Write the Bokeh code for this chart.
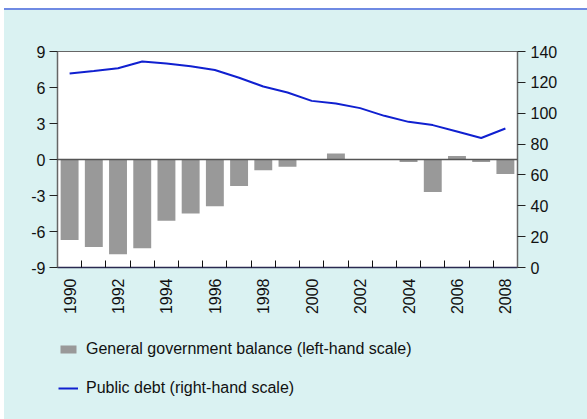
import math
from bokeh.plotting import figure
from bokeh.layouts import column
from bokeh.models import (Range1d, LinearAxis, FixedTicker, Span, Legend, LegendItem,
                          ColumnDataSource)
from bokeh.embed import file_html
from bokeh.resources import INLINE

years = list(range(1990, 2009))
balance = [-6.7, -7.3, -7.9, -7.4, -5.1, -4.5, -3.9, -2.2, -0.9, -0.6,
           0.0, 0.5, 0.0, 0.0, -0.2, -2.7, 0.3, -0.2, -1.2]
debt = [125.7, 127.3, 129.2, 133.5, 132.2, 130.5, 128.0, 123.0, 117.3, 113.4,
        108.0, 106.3, 103.3, 98.3, 94.4, 92.3, 88.2, 83.9, 90.1]
left_ticks = [-9, -6, -3, 0, 3, 6, 9]
right_ticks = [0, 20, 40, 60, 80, 100, 120, 140]
label_years = [1990, 1992, 1994, 1996, 1998, 2000, 2002, 2004, 2006, 2008]
series_names = ["General government balance (left-hand scale)",
                "Public debt (right-hand scale)"]

FONT = "Liberation Sans"
BG = "#daf2f2"
BAR_COLOR = "#999999"
LINE_COLOR = "#1020d0"

src = ColumnDataSource(dict(year=years, balance=balance, debt=debt))

p = figure(output_backend="svg", toolbar_location=None,
           x_range=Range1d(years[0] - 0.5, years[-1] + 0.5),
           y_range=Range1d(-9, 9),
           min_border_left=53, min_border_right=70, min_border_top=41,
           min_border_bottom=52, frame_width=460, frame_height=216,
           x_axis_type=None, y_axis_type=None)
p.background_fill_color = "white"
p.border_fill_color = BG
p.outline_line_color = "#666666"
p.outline_line_width = 1
p.grid.visible = False

p.extra_y_ranges = {"debt": Range1d(0, 140)}

bars = p.vbar(x="year", top="balance", bottom=0, width=0.74, source=src,
              fill_color=BAR_COLOR, line_color=None)
p.add_layout(Span(location=0, dimension="width", line_color="#555555", line_width=1.5))
line = p.line(x="year", y="debt", source=src, y_range_name="debt",
              line_color=LINE_COLOR, line_width=2)

def style_axis(ax):
    ax.major_label_text_font = FONT
    ax.major_label_text_font_size = "16px"
    ax.major_label_text_color = "#111111"
    ax.axis_line_color = "#666666"
    ax.axis_line_width = 1.5
    ax.major_tick_line_color = "#222222"
    ax.major_tick_in = 0
    ax.major_tick_out = 8
    ax.minor_tick_line_color = None

ly = LinearAxis(ticker=FixedTicker(ticks=left_ticks),
                major_label_overrides={t: str(t) for t in left_ticks})
style_axis(ly)
ly.major_label_standoff = 4
p.add_layout(ly, "left")

ry = LinearAxis(y_range_name="debt", ticker=FixedTicker(ticks=right_ticks))
style_axis(ry)
ry.major_label_standoff = 5
p.add_layout(ry, "right")

boundaries = [y + 0.5 for y in years[:-1]]
bx = LinearAxis(ticker=FixedTicker(ticks=label_years, minor_ticks=boundaries),
                major_label_overrides={y: str(y) for y in label_years})
style_axis(bx)
bx.axis_line_color = "#2a2a50"
bx.major_tick_line_color = None
bx.major_tick_out = 0
bx.minor_tick_line_color = "#111111"
bx.minor_tick_in = 7
bx.minor_tick_out = 0
bx.major_label_orientation = math.pi / 2
bx.major_label_standoff = 11
p.add_layout(bx, "below")

# legend panel: separate figure so the legend is drawn inside its own frame
lf = figure(output_backend="svg", toolbar_location=None, width=583, height=100,
            min_border=0, x_range=Range1d(0, 1), y_range=Range1d(0, 1),
            x_axis_type=None, y_axis_type=None)
lf.background_fill_color = BG
lf.border_fill_color = BG
lf.outline_line_color = None
lf.grid.visible = False
# legend-only renderers, placed outside the visible range
lbar = lf.vbar(x=[5], top=[6], bottom=[5], width=0.1, fill_color=BAR_COLOR, line_color=None)
lline = lf.line(x=[5, 6], y=[5, 5], line_color=LINE_COLOR, line_width=2)

legend = Legend(items=[
    LegendItem(label=series_names[0], renderers=[lbar]),
    LegendItem(label=series_names[1], renderers=[lline]),
], location=(1, 21))
legend.padding = 0
legend.margin = 0
legend.border_line_alpha = 0
legend.background_fill_alpha = 0
legend.label_text_font = FONT
legend.label_text_font_size = "16px"
legend.label_text_color = "#111111"
legend.glyph_width = 20
legend.glyph_height = 10
legend.label_height = 20
legend.label_standoff = 8
legend.spacing = 19
lf.add_layout(legend, "center")

layout = column(p, lf, spacing=0, styles={
    "padding-left": "4px",
    "padding-top": "10px",
    "background": "linear-gradient(to right, white 0px, white 4px, transparent 4px), "
                  "linear-gradient(to bottom, white 0px, white 8px, #6f8ae3 8px, #6f8ae3 10px, #daf2f2 10px)",
})
open("out.html", "w").write(file_html(layout, INLINE))
